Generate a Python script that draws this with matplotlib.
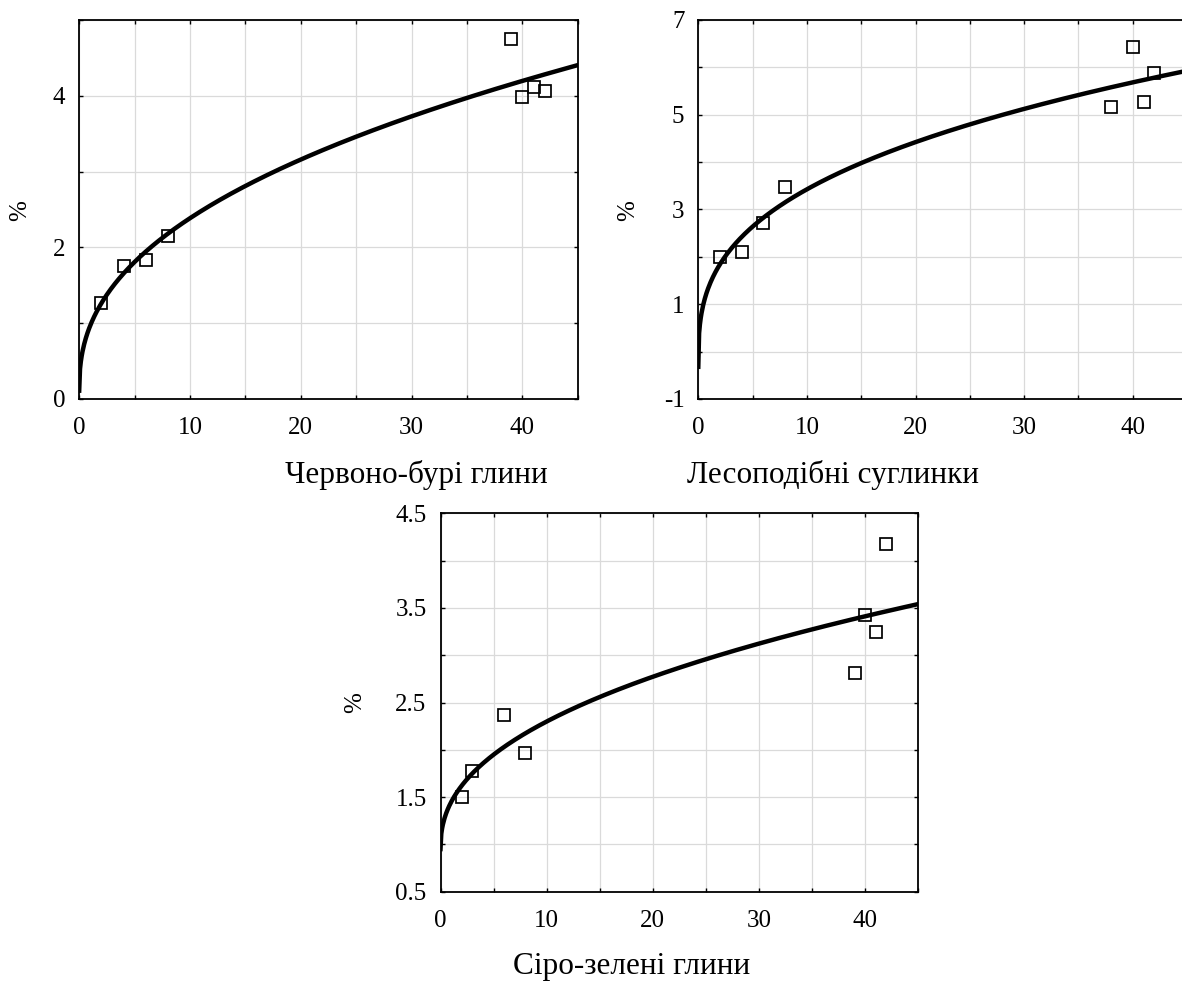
"""
Three power-type fits of % against depth for three soil types
"""
import matplotlib.pyplot as plt
import numpy as np

plt.rcParams['font.family'] = ['Liberation Serif', 'DejaVu Serif']
plt.rcParams['axes.unicode_minus'] = False

# data
depth = [2, 4, 6, 8, 39, 40, 41, 42]
red_brown = [1.26, 1.76, 1.835, 2.15, 4.75, 3.99, 4.11, 4.06]

depth_loess = [2, 4, 6, 8, 38, 40, 41, 42]
loess = [2.0, 2.1, 2.71, 3.48, 5.17, 6.42, 5.26, 5.89]

depth_grey = [2, 3, 6, 8, 39, 40, 41, 42]
grey_green = [1.5, 1.78, 2.37, 1.97, 2.815, 3.425, 3.24, 4.175]

titles = ['Червоно-бурі глини', 'Лесоподібні суглинки', 'Сіро-зелені глини']
x_ticks = [0, 10, 20, 30, 40]
y_ticks = [[0, 2, 4], [-1, 1, 3, 5, 7], [0.5, 1.5, 2.5, 3.5, 4.5]]
y_minor = [[1, 3, 5], [0, 2, 4, 6], [1, 2, 3, 4]]
y_lims = [(0, 5), (-1, 7), (0.5, 4.5)]
y_fmt = ['{:g}', '{:g}', '{:.1f}']


def fit_curve(x, y):
    """least squares fit of y = a + b*x**c (grid over c)"""
    x = np.asarray(x, float)
    y = np.asarray(y, float)
    best = None
    for c in np.linspace(0.05, 1.5, 1500):
        A = np.column_stack([np.ones_like(x), x ** c])
        coef, *_ = np.linalg.lstsq(A, y, rcond=None)
        err = np.sum((A @ coef - y) ** 2)
        if best is None or err < best[0]:
            best = (err, coef[0], coef[1], c)
    return best[1:]


def draw_panel(ax, x, y, k):
    a, b, c = fit_curve(x, y)
    xs = np.linspace(0, 45, 600)
    ax.plot(xs, a + b * xs ** c, color='black', lw=3.2, zorder=3)
    ax.plot(x, y, 's', ms=8.5, mfc='none', mec='black', mew=1.25, zorder=4)
    ax.set_xlim(0, 45)
    ax.set_ylim(*y_lims[k])
    ax.set_xticks(x_ticks)
    ax.set_xticks([5, 15, 25, 35, 45], minor=True)
    ax.set_yticks(y_ticks[k])
    ax.set_yticklabels([y_fmt[k].format(v) for v in y_ticks[k]])
    ax.set_yticks(y_minor[k], minor=True)
    ax.grid(True, which='both', color='#dadada', lw=0.9, zorder=0)
    ax.tick_params(which='both', direction='in', top=True, right=True,
                   length=3, width=1.0, labelsize=18)
    ax.tick_params(axis='y', pad=10)
    ax.tick_params(axis='x', pad=13)
    for s in ax.spines.values():
        s.set_linewidth(1.3)
    ax.set_axisbelow(True)


fig = plt.figure(figsize=(11.82, 9.81), dpi=100)
W, H = 1182, 981


def axes_px(l, t, r, b):
    return fig.add_axes([l / W, 1 - b / H, (r - l) / W, (b - t) / H])


ax1 = axes_px(79.2, 20, 577.9, 399)
ax2 = axes_px(698.3, 20, 1187, 399)
ax3 = axes_px(440.5, 513.3, 918.2, 891.7)

draw_panel(ax1, depth, red_brown, 0)
draw_panel(ax2, depth_loess, loess, 1)
draw_panel(ax3, depth_grey, grey_green, 2)

# axis titles and % labels, positioned as in the source layout
fig.text(285 / W, 1 - 483 / H, titles[0], fontsize=22.5, ha='left', va='baseline')
fig.text(687 / W, 1 - 483 / H, titles[1], fontsize=22.5, ha='left', va='baseline')
fig.text(513 / W, 1 - 974 / H, titles[2], fontsize=22.5, ha='left', va='baseline')
for xp, yp in [(20, 211), (628, 211), (355, 703)]:
    fig.text(xp / W, 1 - yp / H, '%', fontsize=18, rotation=90,
             ha='center', va='center')

plt.savefig('out.png', dpi=100)
plt.close()
